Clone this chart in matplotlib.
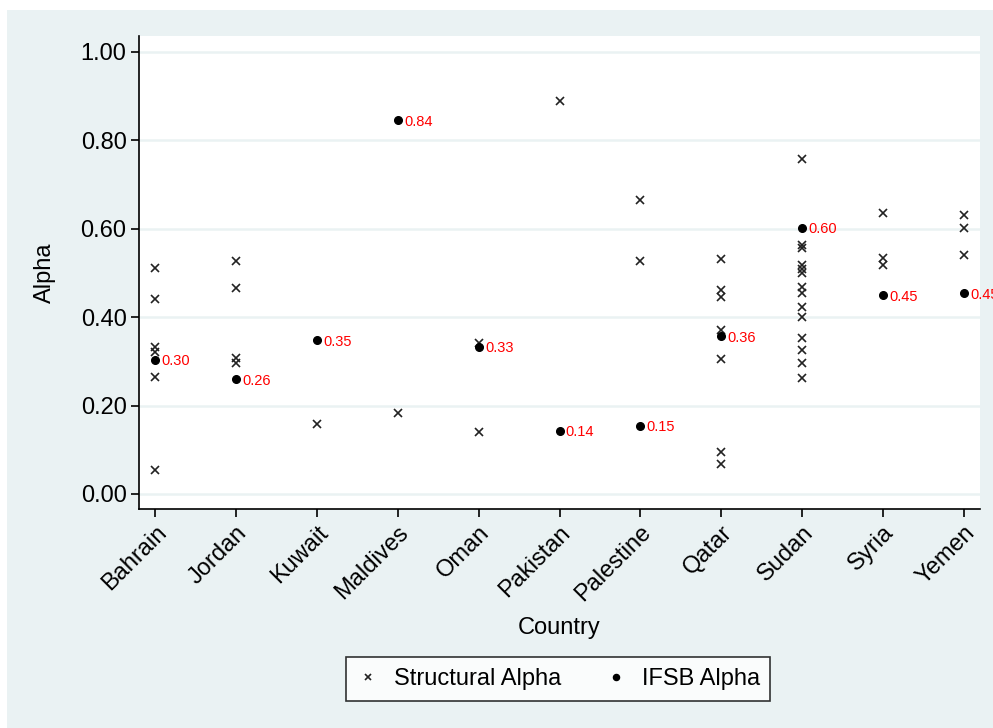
import matplotlib
matplotlib.use('Agg')
from matplotlib import pyplot as plt
from matplotlib.patches import Rectangle

plt.rcParams['font.family'] = ['Liberation Sans', 'DejaVu Sans']

bg_color = '#EAF2F3'

countries = ['Bahrain', 'Jordan', 'Kuwait', 'Maldives', 'Oman', 'Pakistan',
             'Palestine', 'Qatar', 'Sudan', 'Syria', 'Yemen']

# structural alpha estimates per country
structural = {
    'Bahrain': [0.512, 0.441, 0.333, 0.322, 0.264, 0.054],
    'Jordan': [0.526, 0.465, 0.307, 0.296],
    'Kuwait': [0.158],
    'Maldives': [0.183],
    'Oman': [0.341, 0.140],
    'Pakistan': [0.888],
    'Palestine': [0.665, 0.526],
    'Qatar': [0.532, 0.461, 0.446, 0.371, 0.305, 0.095, 0.067],
    'Sudan': [0.757, 0.563, 0.556, 0.518, 0.508, 0.499, 0.468, 0.454, 0.424,
              0.400, 0.352, 0.326, 0.296, 0.262],
    'Syria': [0.636, 0.533, 0.518],
    'Yemen': [0.630, 0.601, 0.540],
}

ifsb = [0.303, 0.259, 0.348, 0.845, 0.333, 0.143, 0.154, 0.357, 0.602, 0.449, 0.454]

fig = plt.figure(figsize=(9.93, 7.28), dpi=100, facecolor='white')
fig.patches.append(Rectangle((7 / 993, 0), 1, 718 / 728, transform=fig.transFigure,
                             facecolor=bg_color, edgecolor='none', zorder=-10))

ax = fig.add_axes([139 / 993, 1 - 509 / 728, (980 - 139) / 993, (509 - 36) / 728])
ax.set_facecolor('white')

sx = []; sy = []
for i, c in enumerate(countries):
    for v in structural[c]:
        sx.append(i)
        sy.append(v)

ax.plot(sx, sy, linestyle='none', marker='x', color='#222222', markersize=6,
        markeredgewidth=1.2, label='Structural Alpha', zorder=3)
ax.plot(range(len(countries)), ifsb, linestyle='none', marker='o', color='black',
        markersize=5.5, label='IFSB Alpha', zorder=4)

# labels run past the plot area like the original (last one is cut by the edge)
for i, v in enumerate(ifsb):
    ax.annotate('%.2f' % v, (i, v), xytext=(4.5, -1), textcoords='offset points',
                color='red', fontsize=10.5, va='center', ha='left',
                annotation_clip=False, zorder=5)

ax.set_xlim(-0.2, 10.2)
ax.set_ylim(-0.034, 1.036)
ax.set_yticks([0, 0.2, 0.4, 0.6, 0.8, 1.0])
ax.set_yticklabels(['%.2f' % t for t in [0, 0.2, 0.4, 0.6, 0.8, 1.0]])
ax.set_xticks(range(len(countries)))
ax.set_xticklabels(countries, rotation=45, ha='right', rotation_mode='anchor')

ax.grid(True, axis='y', color=bg_color, linewidth=1.8, zorder=0)
ax.set_axisbelow(True)
for s in ['top', 'right']:
    ax.spines[s].set_visible(False)
for s in ['left', 'bottom']:
    ax.spines[s].set_linewidth(1.2)
ax.tick_params(axis='both', labelsize=17, length=6, width=1.2, direction='out', pad=3)

ax.set_ylabel('Alpha', fontsize=17, labelpad=18)
ax.set_xlabel('Country', fontsize=17, labelpad=8)

leg = fig.legend(loc='center', bbox_to_anchor=(558 / 993, (728 - 679) / 728), ncol=2,
                 fontsize=17, frameon=True, fancybox=False, edgecolor='black',
                 handletextpad=0.6, columnspacing=1.8, markerscale=0.8,
                 borderpad=0.45, handlelength=1.0)
leg.get_frame().set_linewidth(1.2)

plt.savefig('out.png', dpi=100, facecolor=fig.get_facecolor())
